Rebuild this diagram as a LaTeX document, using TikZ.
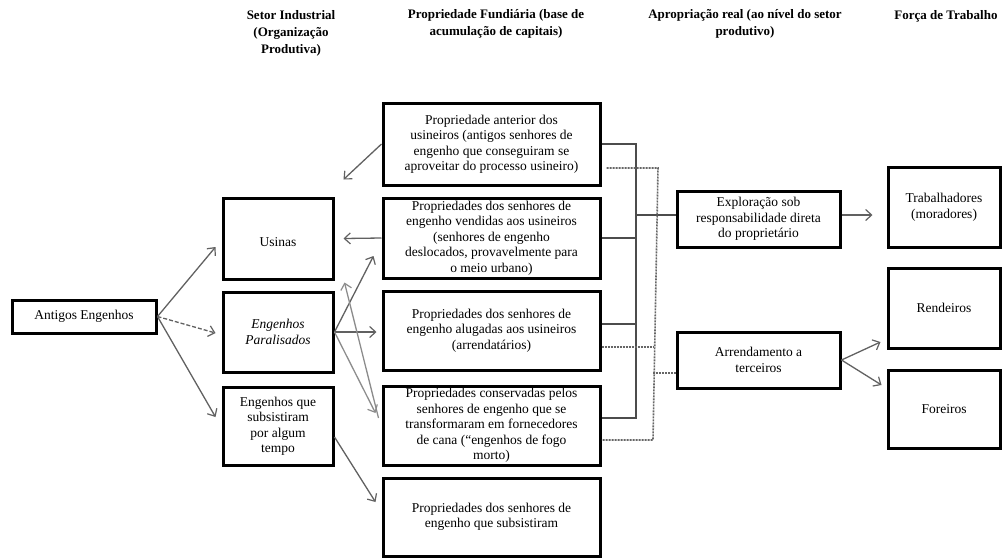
\documentclass[tikz,border=0pt]{standalone}
\usepackage{fontspec}
\setmainfont{Liberation Serif}
\usetikzlibrary{arrows.meta}
\tikzset{
  box/.style={draw=black, line width=3pt, fill=white, align=center, inner sep=1pt,
    font=\fontsize{13.5}{15.5}\selectfont},
  head/.style={align=center, inner sep=0pt, font=\bfseries\fontsize{13}{17}\selectfont},
  conn/.style={draw=black!62, line width=1.3pt, -{Straight Barb[length=6pt,width=11pt,line width=1.2pt]}},
  lightconn/.style={conn, draw=black!45},
  dashconn/.style={conn, dash pattern=on 4pt off 2pt},
  busline/.style={draw=black!70, line width=1.5pt},
  dotline/.style={draw=black!60, line width=1.6pt, dash pattern=on 2pt off 1pt}
}
\begin{document}
\begin{tikzpicture}[x=1pt,y=-1pt]
\useasboundingbox (0,0) rectangle (1005,558);

% headings
\node[head] (h1) at (291,33) {Setor Industrial\\(Organização\\Produtiva)};
\node[head] (h2) at (496,24) {Propriedade Fundiária (base de\\acumulação de capitais)};
\node[head] (h3) at (745,24) {Apropriação real (ao nível do setor\\produtivo)};
\node[head] (h4) at (946,16) {Força de Trabalho};

% left column
\node[box, minimum width=144pt, minimum height=33pt] (antigos) at (84,316.5) {Antigos Engenhos};
\node[box, minimum width=110pt, minimum height=81pt] (usinas) at (278,238.5) {\mbox{}\\Usinas};
\node[box, minimum width=110pt, minimum height=80pt] (paral) at (278,332) {\itshape Engenhos\\\itshape Paralisados};
\node[box, minimum width=110pt, minimum height=78pt] (subs) at (278,426) {Engenhos que\\subsistiram\\por algum\\tempo};

% middle column
\node[box, minimum width=217pt, minimum height=82pt] (p1) at (491.5,144) {Propriedade anterior dos\\usineiros (antigos senhores de\\engenho que conseguiram se\\aproveitar do processo usineiro)};
\node[box, minimum width=217pt, minimum height=80pt] (p2) at (491.5,238) {Propriedades dos senhores de\\engenho vendidas aos usineiros\\(senhores de engenho\\deslocados, provavelmente para\\o meio urbano)};
\node[box, minimum width=217pt, minimum height=79pt] (p3) at (491.5,330.5) {Propriedades dos senhores de\\engenho alugadas aos usineiros\\(arrendatários)};
\node[box, minimum width=217pt, minimum height=79pt] (p4) at (491.5,425.5) {Propriedades conservadas pelos\\senhores de engenho que se\\transformaram em fornecedores\\de cana (“engenhos de fogo\\morto)};
\node[box, minimum width=217pt, minimum height=78pt] (p5) at (491.5,517) {Propriedades dos senhores de\\engenho que subsistiram};

% right columns
\node[box, minimum width=163pt, minimum height=56pt] (expl) at (758.5,219) {Exploração sob\\responsabilidade direta\\do proprietário};
\node[box, minimum width=163pt, minimum height=56pt] (arr) at (758.5,360) {Arrendamento a\\terceiros};
\node[box, minimum width=112pt, minimum height=80pt] (trab) at (944,207) {Trabalhadores\\(moradores)};
\node[box, minimum width=112pt, minimum height=80pt] (rend) at (944,308) {Rendeiros};
\node[box, minimum width=112pt, minimum height=78pt] (fore) at (944,409) {Foreiros};

% left arrows
\draw[conn] (antigos.east) -- ([shift={(-6,8.5)}]usinas.west);
\draw[dashconn] (antigos.east) -- ([shift={(-6,1)}]paral.west);
\draw[conn] (antigos.east) -- ([shift={(-6,-9)}]subs.west);

% middle arrows
\draw[conn] (p1.west) -- ([shift={(9,-17)}]usinas.north east);
\draw[conn] (p2.west) -- ([shift={(9,0)}]usinas.east);
\draw[conn] (paral.east) -- ([shift={(-8,18)}]p2.west);
\draw[conn] (paral.east) -- ([shift={(-5,1.5)}]p3.west);
\draw[lightconn] (paral.east) -- ([shift={(-6,-12.5)}]p4.west);
\draw[lightconn] ([shift={(-3,-7.5)}]p4.west) -- ([shift={(10,2)}]usinas.south east);
\draw[conn] ([shift={(0,11)}]subs.east) -- ([shift={(-6,-15)}]p5.west);

% solid bus to Exploração
\coordinate (sb) at (636,0);
\draw[busline] (p1.east) -- (p1.east -| sb) -- ([yshift=7.5pt]p4.east -| sb) -- ([yshift=7.5pt]p4.east);
\draw[busline] (p2.east) -- (p2.east -| sb);
\draw[busline] ([yshift=6.5pt]p3.east) -- ([yshift=6.5pt]p3.east -| sb);
\draw[busline] ([yshift=4pt]expl.west -| sb) -- ([yshift=4pt]expl.west);

% dotted bus to Arrendamento
\coordinate (db) at (653,0);
\draw[dotline] ([shift={(5,24)}]p1.east) -- ([shift={(5,24)}]p1.east -| db) -- ([yshift=-14.5pt]p4.east -| db) -- ([yshift=-14.5pt]p4.east);
\draw[dotline] ([yshift=-16.5pt]p3.east) -- ([yshift=-16.5pt]p3.east -| db);
\draw[dotline] ([yshift=-13pt]arr.west -| db) -- ([yshift=-13pt]arr.west);

% right arrows
\draw[conn] ([yshift=4pt]expl.east) -- ([shift={(-14,8)}]trab.west);
\draw[conn] (arr.east) -- ([shift={(-6,34)}]rend.west);
\draw[conn] (arr.east) -- ([shift={(-5,-24)}]fore.west);
\end{tikzpicture}
\end{document}
